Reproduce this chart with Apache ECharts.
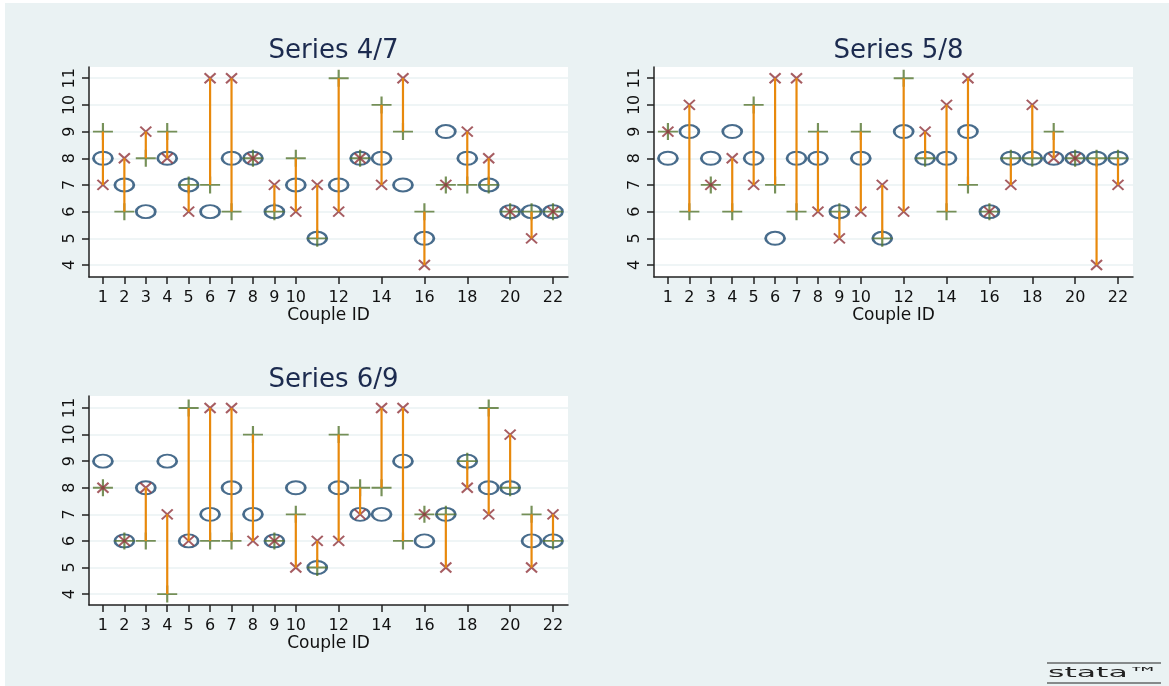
<!DOCTYPE html>
<html>
<head>
<meta charset="utf-8">
<script src="https://cdn.jsdelivr.net/npm/echarts@6/dist/echarts.min.js"></script>
<style>
html,body{margin:0;padding:0;background:#fff;}
#chart{width:1169px;height:686px;}
</style>
</head>
<body>
<div id="chart"></div>
<script>
// ---- data ----
var couples = [1,2,3,4,5,6,7,8,9,10,11,12,13,14,15,16,17,18,19,20,21,22];
var xTickValues = [1,2,3,4,5,6,7,8,9,10,12,14,16,18,20,22];
var yTickValues = [4,5,6,7,8,9,10,11];
var panelTitles = ['Series 4/7', 'Series 5/8', 'Series 6/9'];

var s47Circle = [8,7,6,8,7,6,8,8,6,7,5,7,8,8,7,5,9,8,7,6,6,6];
var s47Plus   = [9,6,8,9,7,7,6,8,6,8,5,11,8,10,9,6,7,7,7,6,6,6];
var s47Cross  = [7,8,9,8,6,11,11,8,7,6,7,6,8,7,11,4,7,9,8,6,5,6];

var s58Circle = [8,9,8,9,8,5,8,8,6,8,5,9,8,8,9,6,8,8,8,8,8,8];
var s58Plus   = [9,6,7,6,10,7,6,9,6,9,5,11,8,6,7,6,8,8,9,8,8,8];
var s58Cross  = [9,10,7,8,7,11,11,6,5,6,7,6,9,10,11,6,7,10,8,8,4,7];

var s69Circle = [9,6,8,9,6,7,8,7,6,8,5,8,7,7,9,6,7,9,8,8,6,6];
var s69Plus   = [8,6,6,4,11,6,6,10,6,7,5,10,8,8,6,7,7,9,11,8,7,6];
var s69Cross  = [8,6,8,7,6,11,11,6,6,5,6,6,7,11,11,7,5,8,7,10,5,7];

// ---- styles / layout ----
var NAVY = '#1a476f', GREEN = '#55752f', MAROON = '#90353b', ORANGE = '#e8890c';
var BG = '#eaf2f3', AXIS = '#222', TITLE = '#1c2b4f';
var FONT = 'DejaVu Sans';
var panels = [
  {circle: s47Circle, plus: s47Plus, cross: s47Cross, grid: {left: 89, top: 67, width: 479, height: 210}, ymin: 3.55, ymax: 11.42},
  {circle: s58Circle, plus: s58Plus, cross: s58Cross, grid: {left: 654, top: 67, width: 479, height: 210}, ymin: 3.55, ymax: 11.42},
  {circle: s69Circle, plus: s69Plus, cross: s69Cross, grid: {left: 89, top: 396, width: 479, height: 209}, ymin: 3.59, ymax: 11.45}
];
var titleTops = [33, 33, 362];

var ELLIPSE = 'path://M0,5 C0,2.24 2.24,0 5,0 C7.76,0 10,2.24 10,5 C10,7.76 7.76,10 5,10 C2.24,10 0,7.76 0,5 Z';
var PLUS = 'path://M0,5 L10,5 M5,0 L5,10';
var CROSS = 'path://M0,0 L10,10 M10,0 L0,10';

function pairs(vals) { return couples.map(function (c, i) { return [c, vals[i]]; }); }

var grids = [], xAxes = [], yAxes = [], series = [], titles = [];
panels.forEach(function (p, k) {
  grids.push(Object.assign({show: true, backgroundColor: '#fff', borderWidth: 0, containLabel: false, outerBoundsMode: 'none'}, p.grid));
  titles.push({text: panelTitles[k], left: p.grid.left + p.grid.width / 2, textAlign: 'center', top: titleTops[k],
    textStyle: {fontFamily: FONT, fontSize: 26, fontWeight: 'normal', color: TITLE}});
  xAxes.push({type: 'value', gridIndex: k, min: 0.35, max: 22.7,
    name: 'Couple ID', nameLocation: 'middle', nameGap: 30,
    nameTextStyle: {fontFamily: FONT, fontSize: 17, color: '#111'},
    axisLine: {show: true, onZero: false, lineStyle: {color: AXIS, width: 1.5}},
    axisTick: {show: true, inside: false, length: 7, lineStyle: {color: AXIS, width: 1.5}, customValues: xTickValues},
    axisLabel: {show: true, margin: 13, fontFamily: FONT, fontSize: 16, color: '#111', customValues: xTickValues},
    splitLine: {show: false}});
  yAxes.push({type: 'value', gridIndex: k, min: p.ymin, max: p.ymax,
    axisLine: {show: true, onZero: false, lineStyle: {color: AXIS, width: 1.5}},
    axisTick: {show: true, inside: false, length: 7, lineStyle: {color: AXIS, width: 1.5}, customValues: yTickValues},
    axisLabel: {show: true, rotate: 90, margin: 11, fontFamily: FONT, fontSize: 16, color: '#111', customValues: yTickValues},
    splitLine: {show: true, lineStyle: {color: BG, width: 1.5}}});
  series.push({type: 'scatter', xAxisIndex: k, yAxisIndex: k, data: pairs(p.circle), symbol: ELLIPSE, symbolSize: [19, 13],
    itemStyle: {color: 'rgba(0,0,0,0)', borderColor: NAVY, borderWidth: 2.3}, z: 2, silent: true});
  series.push({type: 'scatter', xAxisIndex: k, yAxisIndex: k, data: pairs(p.plus), symbol: PLUS, symbolSize: [20, 17],
    itemStyle: {color: 'rgba(0,0,0,0)', borderColor: GREEN, borderWidth: 2}, z: 3, silent: true});
  series.push({type: 'scatter', xAxisIndex: k, yAxisIndex: k, data: pairs(p.cross), symbol: CROSS, symbolSize: [11, 10],
    itemStyle: {color: 'rgba(0,0,0,0)', borderColor: MAROON, borderWidth: 2}, z: 4, silent: true});
  series.push({type: 'custom', xAxisIndex: k, yAxisIndex: k, z: 5, silent: true,
    data: couples.map(function (c, i) { return [c, p.plus[i], p.cross[i]]; }),
    encode: {x: 0, y: [1, 2]},
    renderItem: function (params, api) {
      var a = api.coord([api.value(0), api.value(1)]);
      var b = api.coord([api.value(0), api.value(2)]);
      return {type: 'line', shape: {x1: a[0], y1: a[1], x2: b[0], y2: b[1]}, style: {stroke: ORANGE, lineWidth: 2.2}};
    }});
});

var chart = echarts.init(document.getElementById('chart'), null, {renderer: 'canvas'});
chart.setOption({
  backgroundColor: '#fff',
  animation: false,
  title: titles,
  grid: grids,
  xAxis: xAxes,
  yAxis: yAxes,
  series: series,
  graphic: [
    {type: 'rect', shape: {x: 5, y: 3, width: 1164, height: 683}, style: {fill: BG}, z: -10, silent: true},
    {type: 'line', shape: {x1: 1047, y1: 663, x2: 1161, y2: 663}, style: {stroke: '#222', lineWidth: 1}, silent: true},
    {type: 'line', shape: {x1: 1047, y1: 683, x2: 1161, y2: 683}, style: {stroke: '#222', lineWidth: 1}, silent: true},
    {type: 'text', x: 1048, y: 666, scaleX: 2.25, style: {text: 'stata\u2122', fontFamily: FONT, fontSize: 14, fill: '#222'}, silent: true}
  ]
});
</script>
</body>
</html>
